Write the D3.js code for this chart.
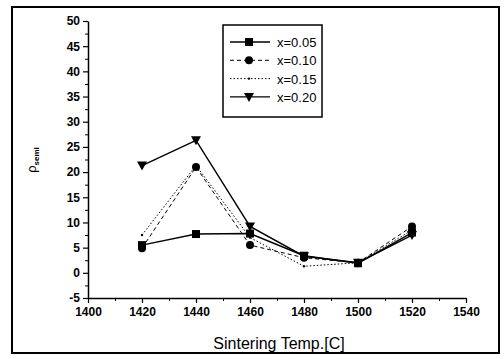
<!DOCTYPE html>
<html>
<head>
<meta charset="utf-8">
<script src="https://cdn.jsdelivr.net/npm/d3@7"></script>
<style>
  body { margin: 0; background: #fff; }
  text { font-family: "Liberation Sans", Arial, sans-serif; }
</style>
</head>
<body>
<div class="chart"></div>
<script>
// sintering temperatures
const temps = [1420, 1440, 1460, 1480, 1500, 1520];
const s005 = [5.5, 7.7, 7.8, 3.4, 1.9, 8.0];
const s010 = [4.9, 21.0, 5.5, 3.0, 2.0, 9.2];
const s015 = [7.5, 21.3, 7.0, 1.3, 2.0, 8.5];
const s020 = [21.3, 26.3, 9.2, 3.3, 2.0, 7.5];
const seriesNames = ['x=0.05', 'x=0.10', 'x=0.15', 'x=0.20'];
const xTicks = [1400, 1420, 1440, 1460, 1480, 1500, 1520, 1540];
const yTicks = [-5, 0, 5, 10, 15, 20, 25, 30, 35, 40, 45, 50];

const W = 504, H = 359;
const margin = { top: 21, right: 38, bottom: 61, left: 88 };
const width = W - margin.left - margin.right;
const height = H - margin.top - margin.bottom;

const svg = d3.select('.chart').append('svg')
  .attr('width', W).attr('height', H);

// outer frame
svg.append('rect')
  .attr('x', 12).attr('y', 7).attr('width', 487).attr('height', 346)
  .attr('fill', 'none').attr('stroke', '#000').attr('stroke-width', 2);

const g = svg.append('g').attr('transform', `translate(${margin.left},${margin.top})`);

const x = d3.scaleLinear().domain([1400, 1540]).range([0, width]);
const y = d3.scaleLinear().domain([-5, 50]).range([height, 0]);

// minor ticks
g.append('g').attr('transform', `translate(0,${height})`)
  .call(d3.axisBottom(x).tickValues(d3.range(1410, 1540, 20)).tickSize(3).tickFormat(''))
  .call(a => a.select('.domain').remove());
g.append('g')
  .call(d3.axisLeft(y).tickValues(d3.range(-2.5, 50, 5)).tickSize(3).tickFormat(''))
  .call(a => a.select('.domain').remove());

const plain = d => String(d);
const xAxis = g.append('g').attr('transform', `translate(0,${height})`)
  .call(d3.axisBottom(x).tickValues(xTicks).tickFormat(plain).tickSize(5).tickSizeOuter(0).tickPadding(4));
const yAxis = g.append('g')
  .call(d3.axisLeft(y).tickValues(yTicks).tickFormat(plain).tickSize(5).tickSizeOuter(0).tickPadding(3));
[xAxis, yAxis].forEach(a => {
  a.selectAll('text').style('font-size', '12px').style('font-weight', 'bold').attr('fill', '#000');
  a.selectAll('line').attr('stroke-width', 1.2);
  a.select('.domain').attr('stroke-width', 1.5);
});

const series = [
  { vals: s005, dash: null, marker: 'square' },
  { vals: s010, dash: '4,3', marker: 'circle' },
  { vals: s015, dash: '1.5,2', marker: 'dot' },
  { vals: s020, dash: null, marker: 'tri' }
];

const line = d3.line().x(d => x(d[0])).y(d => y(d[1]));

function drawMarker(sel, type, cx, cy) {
  if (type === 'square') {
    sel.append('rect').attr('x', cx - 4).attr('y', cy - 4).attr('width', 8).attr('height', 8).attr('fill', '#000');
  } else if (type === 'circle') {
    sel.append('circle').attr('cx', cx).attr('cy', cy).attr('r', 4).attr('fill', '#000');
  } else if (type === 'dot') {
    sel.append('circle').attr('cx', cx).attr('cy', cy).attr('r', 1.2).attr('fill', '#000');
  } else {
    sel.append('path').attr('d', `M${cx - 5},${cy - 4}L${cx + 5},${cy - 4}L${cx},${cy + 5}Z`).attr('fill', '#000');
  }
}

series.forEach(s => {
  const pts = temps.map((t, i) => [t, s.vals[i]]);
  g.append('path').datum(pts)
    .attr('d', line).attr('fill', 'none').attr('stroke', '#000')
    .attr('stroke-width', s.dash ? 1 : 1.4)
    .attr('stroke-dasharray', s.dash);
  const m = g.append('g');
  pts.forEach(p => drawMarker(m, s.marker, x(p[0]), y(p[1])));
});

// legend
const lg = svg.append('g').attr('transform', 'translate(223,25)');
lg.append('rect').attr('width', 99).attr('height', 92)
  .attr('fill', '#fff').attr('stroke', '#000').attr('stroke-width', 1.5);
series.forEach((s, i) => {
  const ly = 17 + i * 18.3;
  lg.append('line').attr('x1', 7).attr('x2', 47).attr('y1', ly).attr('y2', ly)
    .attr('stroke', '#000').attr('stroke-width', s.dash ? 1 : 1.4)
    .attr('stroke-dasharray', s.dash);
  drawMarker(lg, s.marker, 26, ly);
  lg.append('text').attr('x', 54).attr('y', ly + 5)
    .style('font-size', '13px').text(seriesNames[i]);
});

// axis titles
svg.append('text').attr('x', 279).attr('y', 349).attr('text-anchor', 'middle')
  .style('font-size', '16px').text('Sintering Temp.[C]');
const yl = svg.append('text').attr('transform', 'translate(36,160) rotate(-90)')
  .attr('text-anchor', 'middle').style('font-size', '13px');
yl.append('tspan').text('ρ');
yl.append('tspan').attr('dy', 3).style('font-size', '8px').style('font-weight', 'bold').text('semi');
</script>
</body>
</html>
